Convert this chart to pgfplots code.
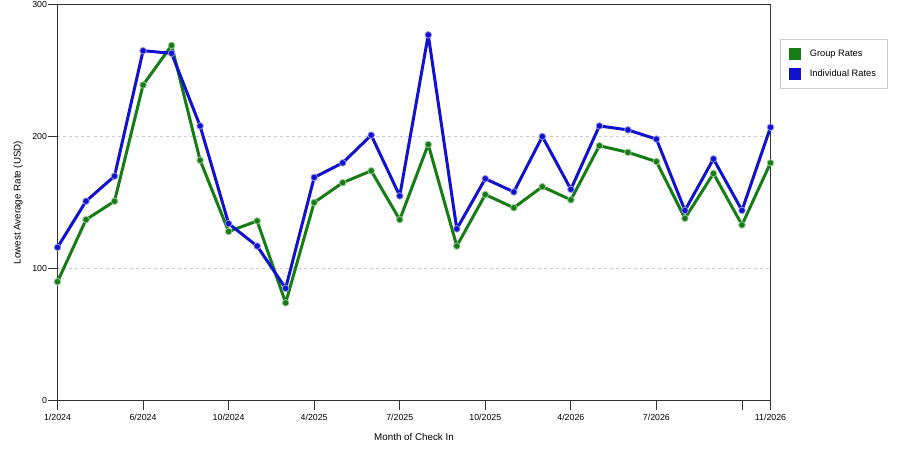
\documentclass[border=0pt]{standalone}
\usepackage{fontspec}
\setmainfont{Liberation Sans}
\usepackage{pgfplots}
\pgfplotsset{compat=1.18}
\definecolor{grp}{RGB}{22,125,22}
\definecolor{ind}{RGB}{18,18,205}
\begin{document}
\begin{tikzpicture}[font=\fontsize{9.8}{11}\selectfont]
\path[use as bounding box] (-57.5pt,-49.5pt) rectangle (842.5pt,400.5pt);
\begin{axis}[
 scale only axis, width=713pt, height=396pt,
 xmin=0, xmax=25, ymin=0, ymax=300,
 clip=false,
 axis line style={black!80, line width=0.9pt},
 xtick={0,3,6,9,12,15,18,21,24,25},
 xticklabels={1/2024,6/2024,10/2024,4/2025,7/2025,10/2025,4/2026,7/2026,,11/2026},
 ytick={0,100,200,300},
 tick align=outside, major tick length=9pt,
 xtick pos=bottom, ytick pos=left,
 tick style={black!80, line width=0.8pt},
 ymajorgrids, grid style={dashed, black!20, line width=0.6pt},
 /pgf/number format/assume math mode=true,
 ticklabel style={font=\fontsize{8.8}{10}\selectfont},
 xticklabel style={yshift=-1pt},
 yticklabel style={xshift=2pt},
 xlabel={Month of Check In},
 ylabel={Lowest Average Rate (USD)},
 xlabel style={at={(axis description cs:0.5,-0.0922)}, anchor=center},
 ylabel style={at={(axis description cs:-0.0554,0.5)}, anchor=center},
 legend style={at={(1,1)}, anchor=north west, xshift=9pt, yshift=-35pt, draw=black!20, line width=0.6pt, inner xsep=9pt, inner ysep=8pt, row sep=8pt, font=\fontsize{9.3}{10}\selectfont},
 legend cell align=left,
 legend image code/.code={\path[draw=none, fill=none] (0pt,0pt) -- (19pt,0pt); \path[draw=none, fill=#1] (0pt,-6pt) rectangle (12pt,6pt);},
]
\addplot[color=grp, line width=3pt, line join=round, mark=*, mark size=3.3pt, mark options={fill=grp, draw=grp!45!white, line width=0.8pt}] coordinates {
(0,90) (1,137) (2,151) (3,239) (4,269) (5,182) (6,128) (7,136) (8,74) (9,150)
(10,165) (11,174) (12,137) (13,194) (14,117) (15,156) (16,146) (17,162) (18,152) (19,193)
(20,188) (21,181) (22,138) (23,172) (24,133) (25,180)};
\addlegendentry{Group Rates}
\addplot[color=ind, line width=3pt, line join=round, mark=*, mark size=3.3pt, mark options={fill=ind, draw=ind!45!white, line width=0.8pt}] coordinates {
(0,116) (1,151) (2,170) (3,265) (4,263) (5,208) (6,134) (7,117) (8,85) (9,169)
(10,180) (11,201) (12,155) (13,277) (14,130) (15,168) (16,158) (17,200) (18,160) (19,208)
(20,205) (21,198) (22,144) (23,183) (24,144) (25,207)};
\addlegendentry{Individual Rates}
\end{axis}
\end{tikzpicture}
\end{document}
